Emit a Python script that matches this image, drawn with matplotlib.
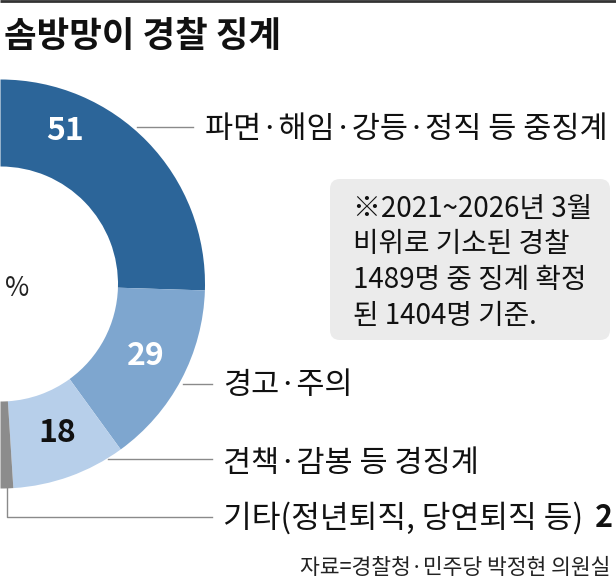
import matplotlib
matplotlib.use("Agg")
import matplotlib.pyplot as plt
from matplotlib.patches import FancyBboxPatch

plt.rcParams['font.family'] = ['Noto Sans CJK KR', 'DejaVu Sans']

# ---- data ----
categories = ["파면·해임·강등·정직 등 중징계", "경고·주의", "견책·감봉 등 경징계", "기타(정년퇴직, 당연퇴직 등)"]
values = [51, 29, 18, 2]
colors = ["#2c6599", "#7ea6cf", "#b7cfea", "#8c8c8c"]
title = "솜방망이 경찰 징계"
note_lines = ["※2021~2026년 3월", "비위로 기소된 경찰", "1489명 중 징계 확정", "된 1404명 기준."]
source = "자료=경찰청·민주당 박정현 의원실"

W, H = 616, 585
fig = plt.figure(figsize=(W / 100, H / 100), dpi=100)
ax = fig.add_axes([0, 0, 1, 1])

def Y(y):
    return H - y

# half donut: hidden remainder equal to the total
hidden = sum(values)
wedges, _ = ax.pie(values + [hidden], colors=colors + ["none"], startangle=90,
                   counterclock=False, radius=204.5, center=(0.5, Y(284)),
                   wedgeprops=dict(width=87, linewidth=0))
wedges[-1].set_visible(False)
ax.set_xlim(0, W)
ax.set_ylim(0, H)
ax.set_aspect('equal')
ax.axis('off')

# top rule
ax.plot([0, W], [Y(0.8), Y(0.8)], color="#333333", lw=2, solid_capstyle='butt')

# title
ax.text(4, Y(37), title, fontsize=25.5, fontweight='bold', ha='left', va='center', color="#111111")

# value labels
ax.text(65, Y(131), str(values[0]), fontsize=23, fontweight='bold', color='white', ha='center', va='center')
ax.text(146, Y(356), str(values[1]), fontsize=23, fontweight='bold', color='white', ha='center', va='center')
ax.text(57, Y(433), str(values[2]), fontsize=23, fontweight='bold', color='#111111', ha='center', va='center')
ax.text(5, Y(288), "%", fontsize=19, color='#222222', ha='left', va='center')

lc = "#8a8a8a"
# leaders and category labels
ax.plot([137, 193], [Y(127), Y(127)], color=lc, lw=1)
ax.text(205, Y(130), categories[0], fontsize=22, ha='left', va='center', color='#111111')

ax.plot([183, 212], [Y(384), Y(384)], color=lc, lw=1)
ax.text(223, Y(385), categories[1], fontsize=22, ha='left', va='center', color='#111111')

ax.plot([108, 212], [Y(459), Y(459)], color=lc, lw=1)
ax.text(223, Y(463), categories[2], fontsize=22, ha='left', va='center', color='#111111')

ax.plot([7, 7, 212], [Y(488), Y(517), Y(517)], color=lc, lw=1)
ax.text(223, Y(518), categories[3], fontsize=22.5, ha='left', va='center', color='#111111')
ax.text(613, Y(518), str(values[3]), fontsize=22, fontweight='bold', ha='right', va='center', color='#111111')

# note box
box = FancyBboxPatch((330, Y(340)), 280, 161, boxstyle="round,pad=0,rounding_size=10",
                     facecolor="#ebebeb", edgecolor='none')
ax.add_patch(box)
for i, line in enumerate(note_lines):
    ax.text(353, Y(209 + 35.5 * i), line, fontsize=20, ha='left', va='center', color='#111111')

# source
ax.text(610, Y(568), source, fontsize=15.5, ha='right', va='center', color='#222222')

fig.savefig("out.png", dpi=100)
